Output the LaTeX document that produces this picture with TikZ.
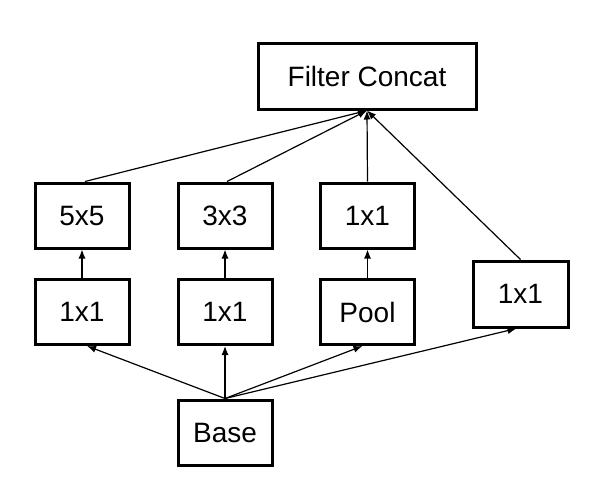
\documentclass[tikz,border=0pt]{standalone}
\usepackage{fontspec}
\setmainfont{Liberation Sans}
\usetikzlibrary{arrows.meta,calc}
\begin{document}
\begin{tikzpicture}[x=0.5pt,y=-0.5pt,
  box/.style={draw=black,line width=1.5pt,rectangle,inner sep=0pt,
    minimum width=47pt,minimum height=32.5pt,font=\fontsize{14pt}{16pt}\selectfont},
  conn/.style={line width=0.6pt,-{Latex[length=4.5pt,width=3.5pt]}}]
\useasboundingbox (0,0) rectangle (590,488);
\node[box,minimum width=109pt,minimum height=33pt] (fc) at (367,76) {Filter Concat};
\node[box] (c5) at (82,215.5) {5x5};
\node[box] (c3) at (225,215.5) {3x3};
\node[box] (c1) at (367.5,215.5) {1x1};
\node[box] (r1) at (82,312) {1x1};
\node[box] (r3) at (225,312) {1x1};
\node[box] (pool) at (367.5,312) {Pool};
\node[box,minimum width=47.5pt,minimum height=33pt] (rr) at (520.5,294) {1x1};
\node[box] (base) at (225,432.5) {Base};
% base to first layer
\draw[conn] (base.north) -- ([xshift=2.5pt]r1.south);
\draw[conn] (base.north) -- (r3.south);
\draw[conn] (base.north) -- ([xshift=-2.5pt]pool.south);
\draw[conn] (base.north) -- ([xshift=-2pt]rr.south);
% first to second layer
\draw[conn] (r1) -- (c5);
\draw[conn] (r3) -- (c3);
\draw[conn] (pool) -- (c1);
% to filter concat
\draw[conn] ([xshift=1.5pt]c5.north) -- (fc.south);
\draw[conn] ([xshift=1pt]c3.north) -- (fc.south);
\draw[conn] (c1.north) -- (fc.south);
\draw[conn] (rr.north) -- (fc.south);
\end{tikzpicture}
\end{document}
